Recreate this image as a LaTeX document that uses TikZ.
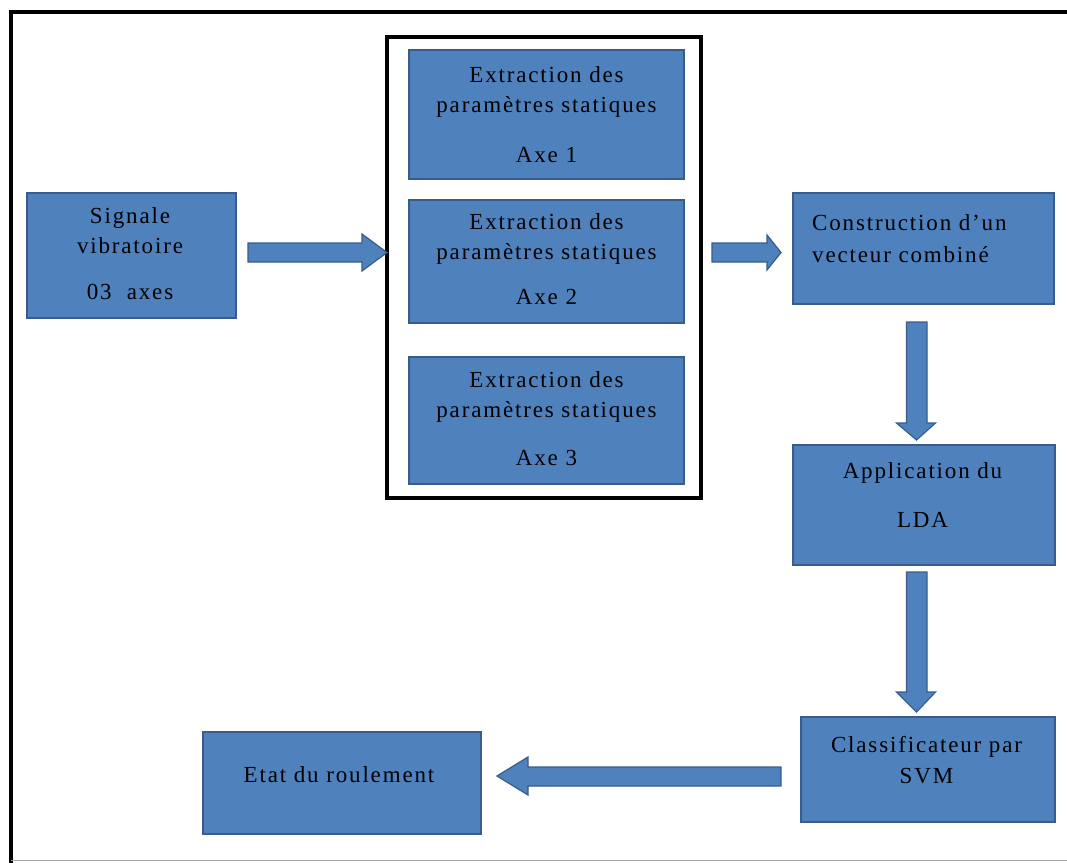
\documentclass[tikz,border=0pt]{standalone}
\usepackage{fontspec}
\setmainfont[LetterSpace=8]{Liberation Serif}
\definecolor{blkfill}{HTML}{4F81BD}
\definecolor{blkborder}{HTML}{385D8A}
\tikzset{
  blk/.style={rectangle, draw=blkborder, fill=blkfill, line width=1.2pt, inner sep=0pt},
  txt/.style={align=center, inner sep=0pt, font=\fontsize{23}{30}\selectfont, text=black},
  barrow/.style={draw=blkborder, fill=blkfill, line width=1.2pt, line join=miter},
  frm/.style={rectangle, draw=black, line width=4pt, inner sep=0pt}
}
\begin{document}
\begin{tikzpicture}[x=1pt, y=-1pt]
\useasboundingbox (0,0) rectangle (1067,862);
\clip (0,0) rectangle (1067,862);
% outer frame
\draw[line width=4pt, line cap=rect] (1090,12) -- (10.5,12) -- (10.5,870);
\draw[gray!70, line width=1.5pt] (10.5,860.5) -- (1090,860.5);

% boxes
\node[blk, minimum width=209pt, minimum height=125pt] (sig) at (131.5,255.5) {};
\node[frm, minimum width=314pt, minimum height=461pt] (grp) at (544,267.5) {};
\node[blk, minimum width=275pt, minimum height=129pt] (e1) at (546.5,114.5) {};
\node[blk, minimum width=275pt, minimum height=123pt] (e2) at (546.5,261.5) {};
\node[blk, minimum width=275pt, minimum height=127pt] (e3) at (546.5,420.5) {};
\node[blk, minimum width=261pt, minimum height=111pt] (cons) at (923.5,248.5) {};
\node[blk, minimum width=262pt, minimum height=120pt] (app) at (924,505) {};
\node[blk, minimum width=254pt, minimum height=105pt] (cls) at (928,769.5) {};
\node[blk, minimum width=278pt, minimum height=102pt] (etat) at (342,783) {};

% texts
\node[txt] (tsig) at (130,253.2) {Signale\\vibratoire\\[16pt]03~~axes};
\node[txt] (te1) at (546.5,114.2) {Extraction des\\paramètres statiques\\[20pt]Axe 1};
\node[txt] (te2) at (546.5,258.7) {Extraction des\\paramètres statiques\\[15pt]Axe 2};
\node[txt] (te3) at (546.5,418.2) {Extraction des\\paramètres statiques\\[18pt]Axe 3};
\node[txt, align=left, anchor=west] (tcons) at (812,238.2) {Construction d’un\\[2pt]vecteur combiné};
\node[txt] (tapp) at (922.5,494.7) {Application du\\[19pt]LDA};
\node[txt] (tcls) at (926.5,759.7) {Classificateur par\\[1pt]SVM};
\node[txt] (tetat) at (339,774.2) {Etat du roulement};

% block arrows
\draw[barrow] (248,243) -- (362,243) -- (362,234) -- (387,252.5) -- (362,271) -- (362,262) -- (248,262) -- cycle;
\draw[barrow] (712,243) -- (767,243) -- (767,235) -- (781,252.5) -- (767,270) -- (767,262) -- (712,262) -- cycle;
\draw[barrow] (906.5,322) -- (927,322) -- (927,423) -- (935.5,423) -- (916.5,440) -- (896.5,423) -- (906.5,423) -- cycle;
\draw[barrow] (906.5,572) -- (927,572) -- (927,692) -- (935.5,692) -- (916.5,712) -- (896.5,692) -- (906.5,692) -- cycle;
\draw[barrow] (781,767) -- (528,767) -- (528,757) -- (497,776) -- (528,795) -- (528,786) -- (781,786) -- cycle;
\end{tikzpicture}
\end{document}
